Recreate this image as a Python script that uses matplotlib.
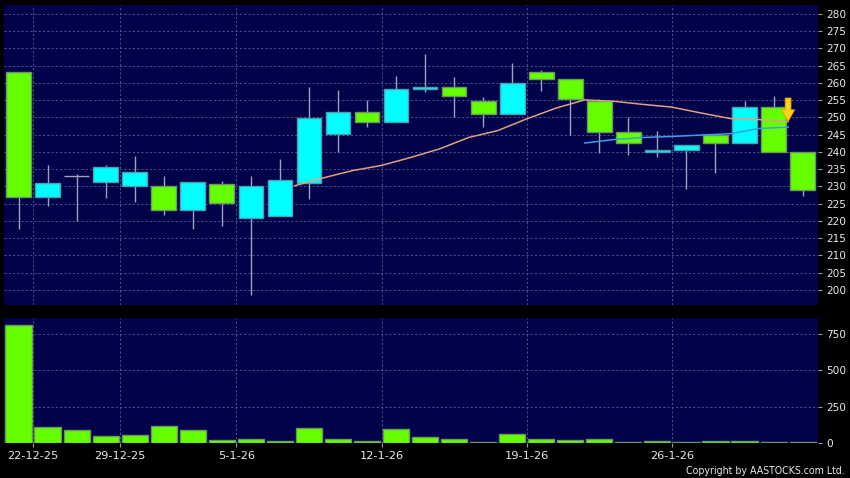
#!/usr/bin/env python3
# -*- coding: utf-8 -*-

from __future__ import annotations
import numpy as np
import matplotlib
matplotlib.use("Agg")
import matplotlib.pyplot as plt

# daily OHLC, 19-12-25 .. 30-1-26
opens = [263.1, 226.9, 233.0, 231.4, 230.0, 230.0, 223.1, 230.6, 220.8, 221.4,
         230.9, 245.1, 251.7, 248.8, 258.2, 258.9, 254.9, 250.9, 263.1, 261.1,
         254.9, 245.7, 239.9, 240.7, 245.0, 242.5, 252.9, 239.9]
highs = [263.1, 236.2, 233.6, 236.2, 238.8, 233.0, 231.4, 231.6, 233.0, 238.0,
         258.7, 258.0, 255.1, 261.9, 268.4, 261.6, 255.8, 265.8, 263.8, 261.1,
         255.4, 250.2, 246.1, 241.9, 245.0, 254.9, 256.2, 239.9]
lows = [217.8, 224.2, 220.0, 226.8, 225.5, 221.8, 217.8, 218.6, 198.6, 221.4,
        226.4, 240.0, 247.1, 248.8, 257.5, 250.0, 247.1, 250.9, 257.8, 245.0,
        239.8, 239.1, 238.6, 229.3, 234.0, 242.5, 239.9, 227.2]
closes = [227.0, 230.9, 233.0, 235.6, 234.1, 223.1, 231.4, 225.1, 230.0, 231.8,
          249.8, 251.7, 248.8, 258.2, 258.9, 256.1, 251.1, 259.9, 261.1, 255.3,
          245.7, 242.5, 240.7, 241.9, 242.5, 252.9, 239.9, 228.9]
volumes = [814, 112, 89, 46, 57, 117, 87, 23, 30, 14, 105, 28, 14, 94,
           44, 25, 9, 60, 25, 21, 25, 9, 16, 7, 16, 16, 9, 9]

# moving averages as drawn (10-day from day 9, 20-day from day 19)
ma10_start = 9
ma10 = [230.2, 232.5, 234.6, 236.1, 238.4, 240.9, 244.2, 246.2, 249.6,
        252.7, 255.1, 254.7, 253.8, 253.0, 251.3, 249.7, 249.4, 248.8]
ma20_start = 19
ma20 = [242.6, 243.6, 244.2, 244.5, 244.9, 245.3, 246.8, 247.2]

date_idx = [1, 4, 8, 13, 18, 23]
date_labels = ["22-12-25", "29-12-25", "5-1-26", "12-1-26", "19-1-26", "26-1-26"]

BG = "#000000"
PANEL = "#02024a"
GRID = "#50508a"
UP = "#00ffff"
UP_EDGE = "#4a9fb0"
DOWN = "#66ff00"
DOWN_EDGE = "#6a9a5a"
WICK = "#a0a0c0"
TXT = "#e8e8e8"


def style_axis(ax, ylim):
    ax.set_facecolor(PANEL)
    ax.set_xlim(-0.5, 27.53)
    ax.set_ylim(*ylim)
    for s in ax.spines.values():
        s.set_visible(False)
    ax.yaxis.tick_right()
    ax.tick_params(axis="y", colors="#9a9a9a", labelcolor=TXT, length=3,
                   width=0.8, pad=3, labelsize=7.6)
    ax.set_xticks(np.array(date_idx) - 0.5)
    ax.grid(True, color=GRID, linestyle=(0, (2.2, 2.2)), linewidth=0.7)
    ax.set_axisbelow(True)


def main() -> None:
    fig = plt.figure(figsize=(8.5, 4.78), dpi=100, facecolor=BG)
    W, H = 850.0, 478.0
    ax = fig.add_axes([4 / W, 1 - 305 / H, 814 / W, 300 / H])
    axv = fig.add_axes([4 / W, 1 - 443 / H, 814 / W, 125 / H])

    o = np.array(opens)
    h = np.array(highs)
    lo = np.array(lows)
    c = np.array(closes)
    x = np.arange(len(o))

    # price panel
    style_axis(ax, (195.65, 282.6))
    ax.set_yticks(np.arange(200, 281, 5))
    ax.tick_params(axis="x", length=0, labelbottom=False)

    ax.vlines(x, lo, h, color=WICK, linewidth=1, zorder=2)
    up = c > o
    dn = c < o
    ax.bar(x[up], (c - o)[up], bottom=o[up], width=0.85, color=UP,
           edgecolor=UP_EDGE, linewidth=1, zorder=3)
    ax.bar(x[dn], (o - c)[dn], bottom=c[dn], width=0.85, color=DOWN,
           edgecolor=DOWN_EDGE, linewidth=1, zorder=3)
    flat = c == o
    ax.hlines(o[flat], x[flat] - 0.43, x[flat] + 0.43, color=WICK, linewidth=1, zorder=3)

    # MAs drawn at the right edge of each day's slot
    ax.plot(np.arange(ma10_start, ma10_start + len(ma10)) + 0.5, ma10,
            color="#e0a080", linewidth=1.1, zorder=4)
    ax.plot(np.arange(ma20_start, ma20_start + len(ma20)) + 0.5, ma20,
            color="#3aa0e8", linewidth=1.1, zorder=4)

    ax.annotate("", xy=(ma10_start + len(ma10) - 0.5, ma10[-1]), xytext=(0, 17),
                textcoords="offset points",
                arrowprops=dict(arrowstyle="simple,head_length=0.85,head_width=0.95,tail_width=0.42",
                                mutation_scale=10, shrinkA=0, shrinkB=0,
                                facecolor="#ffd21a", edgecolor="#d89a00", linewidth=0.6),
                zorder=6)

    # volume panel
    style_axis(axv, (0, 862))
    axv.set_yticks([0, 250, 500, 750])
    axv.bar(x, volumes, width=0.9, color=DOWN, edgecolor=DOWN_EDGE, linewidth=1, zorder=3)
    axv.set_xticklabels(date_labels)
    axv.tick_params(axis="x", colors="#9a9a9a", labelcolor=TXT, length=3,
                    width=0.8, pad=3, labelsize=8.2)

    fig.text(845 / W, 1 - 471 / H, "Copyright by AASTOCKS.com Ltd.", color=TXT,
             fontsize=7.6, fontstretch="condensed", ha="right", va="center")

    fig.savefig("out.png", dpi=100, facecolor=BG)
    plt.close(fig)


if __name__ == "__main__":
    main()
